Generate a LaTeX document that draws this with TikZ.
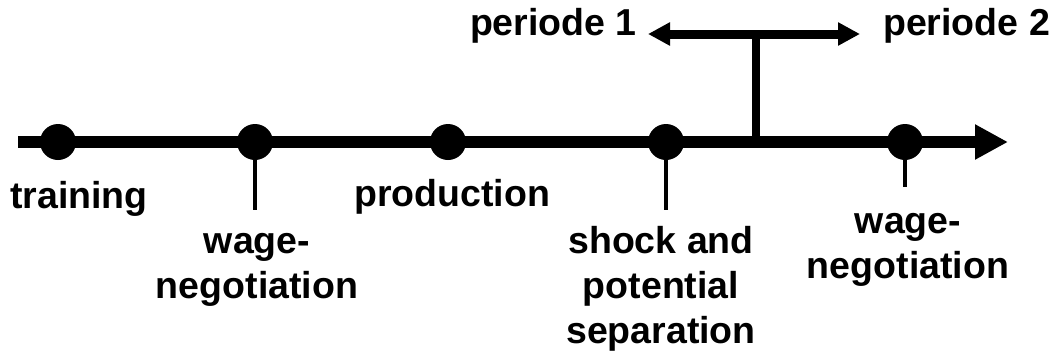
\documentclass[tikz,border=0pt]{standalone}
\usepackage{fontspec}
\setmainfont{Liberation Sans}
\usetikzlibrary{arrows.meta}

\begin{document}
\begin{tikzpicture}[x=1pt, y=-1pt,
		dot/.style={circle, fill=black, minimum size=36pt, inner sep=0pt},
		tick/.style={line width=3.5pt},
		lbl/.style={inner sep=0pt, align=center, anchor=base, font=\fontsize{37.5pt}{45pt}\selectfont\bfseries}]
			%%%%% START %%%%%
			
			\useasboundingbox (0, 0) rectangle (1061, 354);
			
			\coordinate (start) at (18, 142);
			\coordinate (end) at (1008, 142);
			\draw[line width=12pt, -{Triangle[length=33pt, width=33pt]}] (start) -- (end);
			
			\node[dot] (train) at (58, 142) {};
			\node[dot] (wage1) at (255, 142) {};
			\node[dot] (prod) at (448, 142) {};
			\node[dot] (shock) at (666, 142) {};
			\node[dot] (wage2) at (905, 142) {};
			
			\coordinate (wage1end) at (255, 210);
			\coordinate (shockend) at (666, 210);
			\coordinate (wage2end) at (905, 187);
			\draw[tick] (wage1.center) -- (wage1end);
			\draw[tick] (shock.center) -- (shockend);
			\draw[tick] (wage2.center) -- (wage2end);
			
			\coordinate (split) at (756, 34);
			\coordinate (splitbase) at (756, 142);
			\coordinate (per1end) at (648, 34);
			\coordinate (per2end) at (860, 34);
			\draw[line width=8pt] (splitbase) -- (split);
			\draw[line width=9pt, {Triangle[length=22pt, width=22pt]}-{Triangle[length=22pt, width=22pt]}] (per1end) -- (per2end);
			
			% multi-line labels sit on the baseline of their last line
			\node[lbl] (traintxt) at (79, 208) {training};
			\node[lbl] (wage1txt) at (257, 298) {wage-\\negotiation};
			\node[lbl] (prodtxt) at (452, 206) {production};
			\node[lbl] (shocktxt) at (661, 343) {shock and\\potential\\separation};
			\node[lbl] (wage2txt) at (908, 278) {wage-\\negotiation};
			
			\node[lbl, anchor=base east] (per1) at (637, 35) {periode 1};
			\node[lbl, anchor=base west] (per2) at (883, 35) {periode 2};
			
			%%%%% END %%%%%
		\end{tikzpicture}
\end{document}
